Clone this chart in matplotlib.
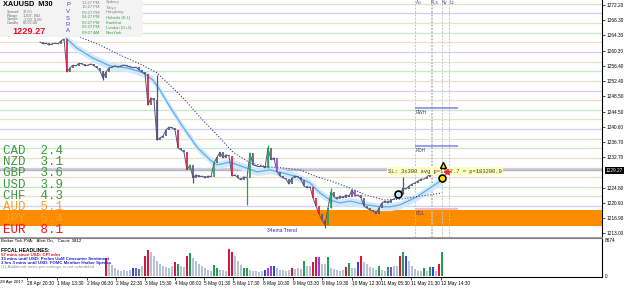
import numpy as np
import matplotlib
matplotlib.use('Agg')
import matplotlib.pyplot as plt
from matplotlib.patches import Rectangle
from matplotlib.transforms import blended_transform_factory

plt.rcParams['font.family'] = ['Liberation Sans', 'DejaVu Sans']

W, H = 625, 289

# XAUUSD M30 closes, one sample every 3 px of chart (bar index = pixel column)
bar_start = 40
close = [1262.6, 1262.1, 1262.3, 1261.8, 1262.1, 1262.3, 1262.1, 1262.9, 1263.4,
         1254.8, 1255.9, 1256.6, 1256.4, 1257.1, 1256.9, 1256.4, 1256.6, 1256.9, 1256.4,
         1255.9, 1255.1, 1253.2, 1254.8, 1255.9, 1256.1, 1256.4, 1256.1, 1256.4, 1256.6,
         1256.4, 1256.1, 1255.9, 1256.1, 1255.3, 1254.8, 1254.3,
         1246.2, 1248.1, 1247.5, 1237.2, 1237.7, 1238.2, 1239.8, 1240.5, 1240.3, 1239.8,
         1235.1, 1234.6, 1234.0, 1229.4, 1230.7, 1227.3, 1228.1, 1227.6, 1227.8, 1227.3,
         1227.8, 1227.6, 1231.2, 1232.7, 1234.0, 1232.5, 1233.3, 1233.0,
         1227.8, 1228.1, 1227.3, 1226.8, 1227.6, 1227.3, 1233.8, 1230.7, 1230.4, 1230.2,
         1230.4, 1229.9, 1235.1, 1232.0, 1232.5, 1228.9, 1227.8, 1227.3, 1227.0, 1225.7,
         1227.3, 1227.8, 1227.6, 1226.8, 1225.2, 1224.7, 1225.0,
         1222.1, 1220.0, 1217.9, 1216.4, 1215.1, 1219.5, 1223.7, 1222.4, 1221.8, 1222.6,
         1222.1, 1222.9, 1222.4, 1224.2, 1222.6, 1222.9, 1222.1, 1220.0, 1219.5, 1219.0,
         1218.7, 1218.0, 1219.5, 1220.8, 1221.3, 1220.8, 1221.6, 1221.8, 1222.4, 1223.1,
         1224.7, 1224.4, 1225.2, 1225.7, 1226.0, 1226.5, 1227.0, 1227.0, 1227.6, 1228.3,
         1228.9, 1228.6, 1229.27]
# PVSRA coloured candles (index -> colour code)
highlight = {8: 'g', 9: 'r', 32: 'p', 36: 'r', 46: 'r', 49: 'r', 50: 'g', 58: 'g',
             64: 'r', 69: 'g', 70: 'g', 76: 'g', 79: 'p', 91: 'r', 92: 'r', 93: 'r',
             96: 'g', 97: 'g', 105: 'p'}
# long wicks
spike_x = [103, 157, 193, 247, 268, 325, 331, 403]
spike_hi = [1254.8, 1254.0, 1228.1, 1227.6, 1235.9, 1216.4, 1224.7, 1227.6]
spike_lo = [1252.7, 1237.2, 1226.0, 1220.3, 1230.0, 1214.3, 1219.5, 1223.1]
spike_col = ['k', 'k', 'k', 'g', 'g', 'k', 'g', 'k']

# 34 ema trend
ema_x = [66, 77, 93, 110, 127, 143, 153, 160, 170, 183, 197, 210, 217, 230, 243, 257,
         270, 283, 297, 310, 320, 330, 340, 350, 367, 380, 390, 400, 417, 430, 442]
ema = [1263.6, 1261.0, 1258.4, 1256.4, 1255.9, 1254.6, 1252.7, 1250.1, 1245.7, 1240.5,
       1235.3, 1232.0, 1230.7, 1231.4, 1230.2, 1228.9, 1229.4, 1228.6, 1227.6, 1226.0,
       1223.4, 1221.6, 1220.8, 1221.3, 1220.3, 1219.8, 1219.8, 1220.3, 1222.4, 1224.7, 1226.8]

# slow dotted MA
ma_x = [80, 100, 120, 140, 157, 183, 200, 217, 233, 250, 267, 283, 300, 317, 333, 350,
        365, 385, 400, 442]
ma = [1263.9, 1261.8, 1259.2, 1256.9, 1254.6, 1248.1, 1243.1, 1238.5, 1234.0, 1231.2,
      1230.2, 1229.9, 1229.4, 1227.6, 1226.3, 1224.7, 1222.9, 1221.6, 1221.8, 1223.4]

# tick volume, one bar every 3 px starting at x=106
vol_start = 106
volume = [4320, 3120, 2640, 1920, 1440, 1200, 1440, 1200, 1440, 1920,
          1920, 1680, 2400, 4800, 6240, 5760, 4800, 3600, 2880, 2400,
          2160, 1920, 2400, 3360, 2880, 2400, 2160, 4800, 5520, 4320,
          3600, 2880, 2400, 1920, 1440, 1200, 2640, 1920, 1440, 1440,
          1200, 6480, 5760, 4800, 3600, 2640, 1920, 1920, 1440, 1200,
          1200, 960, 1200, 1440, 1920, 2400, 2400, 1920, 1440, 1440,
          1200, 1440, 1920, 1680, 1920, 1680, 3600, 2400, 2400, 3360,
          4560, 4560, 2880, 2880, 4560, 1920, 1680, 1440, 1200, 1440,
          2160, 3120, 1920, 1920, 3360, 4800, 3360, 2880, 2160, 1920,
          1440, 2400, 1440, 1200, 2160, 2160, 2400, 2400, 4800, 5760,
          4800, 3600, 2400, 1680, 1200, 1200, 1920, 1200, 2160, 2160,
          1200, 2880, 5760]
vol_col = ("rkkkkkkkkb" "pgkrrkkkkk" "kkkrgkkrgk" "kkkkkkggkk" "krrkkkggkk"
           "kkkbppbkkk" "kkrkkkgkkr" "rpkkgkkkkk" "rgkkbrkkkk" "kgkkgpkkrg"
           "bkkkkkgkgb" "krg")
vol_max = 8674

price_ticks = [1272.20, 1268.30, 1264.30, 1260.30, 1256.40, 1252.40, 1248.50, 1244.50,
               1240.60, 1236.70, 1232.70, 1224.80, 1220.90, 1216.90, 1213.00]
time_ticks = [27, 57, 87, 116, 145, 175, 204, 233, 263, 293, 322, 352, 381, 411, 441]
time_labels = ['28 Apr 20:30', '1 May 13:30', '2 May 06:30', '2 May 22:30', '3 May 15:30',
               '4 May 08:00', '5 May 01:30', '5 May 17:30', '8 May 10:30', '9 May 03:30',
               '9 May 19:30', '10 May 12:30', '11 May 05:30', '11 May 21:30', '12 May 14:30']

strength_ccy = ['CAD', 'NZD', 'GBP', 'USD', 'CHF', 'AUD', 'JPY', 'EUR']
strength_val = [2.4, 3.1, 3.6, 3.9, 4.3, 5.1, 5.4, 8.1]
strength_col = ['#3f9a3f'] * 5 + ['#ffa020'] * 2 + ['#ff1010']

session_times = ['11:27 PM', '10:27 PM', '09:27 PM', '04:27 PM', '03:27 PM', '03:27 PM', '09:27 AM']
session_names = ['Sydney', 'Tokyo', 'Hongkong', 'Helsinki (E.L)', 'Frankfurt', 'London (G+1)', 'NewYork']
info_keys = ['Spread', 'Range', 'Swaps', 'Candle']
info_vals = ['37.00', '1207, 882', '-3.00, 0.00', '00:02:46']

session_lines = [415, 430.5, 432, 441.5, 449]
session_tags = [('Ao', 416), ('FLs', 431), ('Ny', 442), ('Lc', 450)]
range_levels = [('RWH', 1245.5, '#8a8af0'), ('RDH', 1235.6, '#8a8af0'), ('RDL', 1219.2, '#f2b0b0')]
bid, spread = 1229.27, 0.37

colors = {'k': '#55557a', 'r': '#dc143c', 'g': '#27a055', 'p': '#a040d0', 'b': '#2848e0'}
vcolors = {'k': '#b6c2d6', 'r': '#dc143c', 'g': '#20a050', 'p': '#a040e0', 'b': '#2848e0'}


def fx(x):
    return x / W


def fy(y):
    return 1 - y / H


fig = plt.figure(figsize=(6.25, 2.89), dpi=100)
ax = fig.add_axes([0, fy(237), fx(602), 237 / H])
ax2 = fig.add_axes([0, fy(277), fx(602), 39 / H])

# ---- main price panel ----
ax.set_xlim(0, 602)
ax.set_ylim(1211.97, 1273.5)

for lv in np.arange(1215.0, 1273.0, 2.5):
    if lv % 10 == 0:
        c = '#cfcff5'
    elif lv % 5 == 0:
        c = '#c4ecc4'
    else:
        c = '#e8e0c8'
    ax.axhline(lv, color=c, lw=0.9, zorder=1)

ax.axhspan(1214.8, 1219.0, color='#ff8c00', lw=0, zorder=1.5)
ax.axhline(bid, color='#b4b4b4', lw=1.0, zorder=1.6)
ax.axhline(bid + spread, color='#c8c8c8', lw=0.8, zorder=1.6)

ax.vlines(session_lines, 1211.97, 1273.5, colors='#c4c4c4', lw=0.7,
          linestyles=(0, (2, 1.5)), zorder=1.7)

ema_arr = np.array(ema)
ax.fill_between(ema_x, ema_arr - 1.0, ema_arr + 1.0, color='#d3e9fb', lw=0, zorder=2.5)
ax.plot(ema_x, ema, color='#5aaef0', lw=0.9, zorder=3)
ax.plot(ma_x, ma, color='#3a3a9a', lw=0.8, ls=(0, (1, 1.6)), zorder=3)

bar_x = bar_start + 3 * np.arange(len(close))
close_arr = np.array(close)
prev = np.r_[close_arr[0], close_arr[:-1]]
bar_col = [colors[highlight.get(i, 'k')] for i in range(len(close))]
ax.plot(bar_x, close, color=colors['k'], lw=0.7, zorder=4)
ax.vlines(bar_x, np.minimum(prev, close_arr), np.maximum(prev, close_arr),
          colors=bar_col, lw=1.2, zorder=5)
ax.vlines(spike_x, spike_lo, spike_hi, colors=[colors[c] for c in spike_col], lw=0.9, zorder=5)

# range levels RWH / RDH / RDL
for name, lv, c in range_levels:
    ax.hlines(lv, 415, 458, colors=c, lw=1.2, zorder=3)
    ax.text(416, lv - 0.5, name, fontsize=3.3, color='#404068', va='top', ha='left', zorder=6)

for tag, tx in session_tags:
    ax.text(tx, 1272.9, tag, fontsize=3.3, color='#5050a0', ha='left', va='center', zorder=6)

# trade label + markers
ax.text(388, 1229.1, 'SL: 3x300 avg p=1227.7 = p=183200.0', family='Liberation Mono',
        fontsize=4.0, color='#404040', va='center', ha='left', zorder=7,
        bbox=dict(fc='#ffffc0', ec='none', pad=1.0))
ax.plot(398, 1223.1, 'o', ms=5, mfc='#bfe4ff', mec='black', mew=1.2, zorder=8)
ax.plot(442, 1227.2, 'o', ms=5, mfc='#ffe000', mec='black', mew=1.2, zorder=8)
ax.plot(443, 1230.6, '^', ms=5, mfc='#ffe000', mec='black', mew=1.0, zorder=8)
ax.plot(447, 1228.8, '*', ms=4, color='#ff2040', zorder=9)

ax.yaxis.tick_right()
ax.set_yticks(price_ticks)
ax.set_yticklabels([f'{t:.2f}' for t in price_ticks])
ax.tick_params(axis='y', labelsize=3.4, length=2, width=0.5, pad=1.5)
ax.set_xticks([])
for s in ['left', 'top']:
    ax.spines[s].set_visible(False)
ax.spines['right'].set_linewidth(0.8)
ax.spines['bottom'].set_color('#909090')
ax.spines['bottom'].set_linewidth(0.6)

trans = blended_transform_factory(ax.transAxes, ax.transData)
ax.text(1.006, bid, f'{bid:.2f}', transform=trans, fontsize=3.4, color='white',
        va='center', ha='left', clip_on=False, zorder=10,
        bbox=dict(fc='black', ec='none', pad=0.6))

# ---- volume panel ----
vol_x = vol_start + 3 * np.arange(len(volume))
ax2.bar(vol_x, volume, width=2.6, color=[vcolors[c] for c in vol_col], lw=0)
ax2.set_xlim(0, 602)
ax2.set_ylim(-241, 9158)
ax2.yaxis.tick_right()
ax2.set_yticks([0, vol_max])
ax2.set_yticklabels(['0', str(vol_max)])
ax2.tick_params(axis='y', labelsize=3.4, length=0, pad=2)
ax2.set_xticks(time_ticks)
ax2.set_xticklabels(time_labels, ha='left')
ax2.tick_params(axis='x', labelsize=3.4, length=2, width=0.5, pad=1)
ax2.text(0.5, -0.08, '28 Apr 2017', transform=blended_transform_factory(ax2.transData, ax2.transAxes),
         fontsize=3.2, va='top', ha='left', clip_on=False)
ax2.spines['left'].set_visible(False)
ax2.spines['top'].set_color('#808080')
for s in ['top', 'bottom', 'right']:
    ax2.spines[s].set_linewidth(0.8)

# ---- overlay texts ----
fig.add_artist(Rectangle((0, fy(37)), fx(143), 37 / H, transform=fig.transFigure,
                         fc='#f3f3f3', ec='none', zorder=5))
fig.text(fx(3), fy(4), 'XAUUSD  M30', fontsize=5.3, weight='bold', va='center', zorder=6)
for i, (k, v) in enumerate(zip(info_keys, info_vals)):
    fig.text(fx(7), fy(12 + 3.7 * i), k, fontsize=2.8, color='#707070', va='center', zorder=6)
    fig.text(fx(23), fy(12 + 3.7 * i), v, fontsize=2.8, color='#707070', va='center', zorder=6)
fig.text(fx(12), fy(31.5), f'{bid:.2f}', fontsize=6.6, weight='bold', color='#e8102a',
         va='center', zorder=6)
for i, ch in enumerate('PVSRA'):
    fig.text(fx(68), fy(5 + 6.5 * i), ch, fontsize=4.2, color='#4040c8', ha='center',
             va='center', zorder=6)
for i, (t, n) in enumerate(zip(session_times, session_names)):
    c = '#808080' if i < 3 else '#3aa03a'
    fig.text(fx(82), fy(2.5 + 5 * i), t, fontsize=3.0, color=c, va='center', zorder=6)
    fig.text(fx(106), fy(2.5 + 5 * i), n, fontsize=3.0, color=c, va='center', zorder=6)

for i, (ccy, val, c) in enumerate(zip(strength_ccy, strength_val, strength_col)):
    fig.text(fx(3), fy(150.7 + 11.33 * i), f'{ccy}  {val:.1f}', family='Liberation Mono',
             fontsize=9, color=c, va='center', zorder=6)

fig.text(fx(267), fy(231), '34ema Trend', fontsize=3.6, color='#2828c8', va='center', zorder=6)

fig.text(fx(1), fy(240.5), 'Broker Tick PVA:   Alert On,   Count: 3812', fontsize=3.2,
         va='center', zorder=6)
fig.text(fx(1), fy(250), 'FFCAL HEADLINES:', fontsize=3.6, weight='bold', va='center', zorder=6)
news = [('57 mins since USD: CPI m/m', '#e01020'),
        ('33 mins until USD: Prelim UoM Consumer Sentiment', '#2020d0'),
        ('3 hrs 3 mins until USD: FOMC Member Harker Speaks', '#2020d0'),
        ('(1) Additional news per settings is not scheduled', '#909090')]
for i, (txt, c) in enumerate(news):
    fig.text(fx(1), fy(254.5 + 4.3 * i), txt, fontsize=3.2, weight='bold' if i < 3 else 'normal',
             color=c, va='center', zorder=6)

fig.savefig('out.png', dpi=100)
